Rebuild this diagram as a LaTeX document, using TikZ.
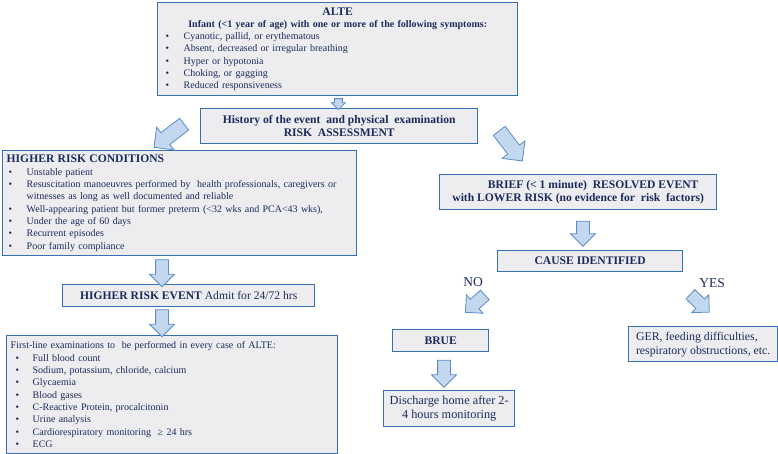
\documentclass[tikz,border=0pt]{standalone}
\usepackage{fontspec}
\setmainfont{Liberation Serif}
\usepackage{xcolor}
\usetikzlibrary{shapes,arrows,positioning,calc}

\definecolor{boxline}{HTML}{3670B5}
\definecolor{boxfill}{HTML}{EDEDF0}
\definecolor{boxtext}{HTML}{1B2A5C}
\definecolor{arrowline}{HTML}{5B8CC8}
\definecolor{arrowfill}{HTML}{C3D8EF}

\newlength\bulpre
\newlength\bulind
\newcommand\itm{\par\noindent\hangindent=\bulind\hspace*{\bulpre}\makebox[\dimexpr\bulind-\bulpre\relax][l]{\textbullet}}

\tikzset{
  box/.style={draw=boxline, line width=1.4pt, fill=boxfill, text=boxtext, inner sep=4pt, anchor=north west},
  listbox/.style={box, font=\fontsize{10}{12.3}\selectfont},
  headbox/.style={box, align=center, font=\fontsize{11.6}{13.5}\selectfont\bfseries},
  fatarrow/.style={single arrow, draw=arrowline, fill=arrowfill, line width=0.8pt,
    inner xsep=0pt, inner ysep=6pt, single arrow head extend=6pt, minimum width=0pt, minimum height=27pt},
  bigarrow/.style={fatarrow, inner ysep=7pt, single arrow head extend=7pt, minimum height=38pt},
  answer/.style={text=boxtext, font=\fontsize{13.5}{14}\selectfont}
}

\begin{document}
\begin{tikzpicture}[x=1pt,y=-1pt]
    \useasboundingbox (0,0) rectangle (778,454);

    % boxes
    \node[listbox, text width=352pt, minimum height=93pt] (alte) at (157,2)
      {\setlength\bulpre{4pt}\setlength\bulind{22pt}%
       \centering{\fontsize{11.6}{12}\selectfont\bfseries ALTE\par}
       {\bfseries Infant (<1 year of age) with one or more of the following symptoms:\par}
       \raggedright
       \itm Cyanotic, pallid, or erythematous
       \itm Absent, decreased or irregular breathing
       \itm Hyper or hypotonia
       \itm Choking, or gagging
       \itm Reduced responsiveness\par};
    \node[headbox, minimum width=277pt, minimum height=35pt] (hist) at (200,108)
      {History of the event\ \ and physical\ \ examination\\RISK\ \ ASSESSMENT};
    \node[listbox, text width=346pt, minimum height=105pt] (hrc) at (2,150)
      {\setlength\bulpre{2pt}\setlength\bulind{20pt}\raggedright
       {\fontsize{11.6}{12}\selectfont\bfseries HIGHER RISK CONDITIONS\par}
       \itm Unstable patient
       \itm Resuscitation manoeuvres performed by\ \ health professionals, caregivers or\newline witnesses as long as well documented and reliable
       \itm Well-appearing patient but former preterm (<32 wks and PCA<43 wks),
       \itm Under the age of 60 days
       \itm Recurrent episodes
       \itm Poor family compliance\par};
    \node[headbox, minimum width=252pt, minimum height=22pt] (hre) at (62,284)
      {HIGHER RISK EVENT \mdseries Admit for 24/72 hrs};
    \node[listbox, text width=323pt, minimum height=118pt] (first) at (6,335)
      {\setlength\bulpre{5pt}\setlength\bulind{22pt}\raggedright
       First-line examinations to\ \ be performed in every case of ALTE:\par
       \itm Full blood count
       \itm Sodium, potassium, chloride, calcium
       \itm Glycaemia
       \itm Blood gases
       \itm C-Reactive Protein, procalcitonin
       \itm Urine analysis
       \itm Cardiorespiratory monitoring\ \ ≥ 24 hrs
       \itm ECG\par};
    \node[headbox, minimum width=277pt, minimum height=35pt] (brief) at (439,174)
      {\hspace*{30pt}BRIEF (< 1 minute)\ \ RESOLVED EVENT\\with LOWER RISK (no evidence for\ \ risk\ \ factors)};
    \node[headbox, minimum width=185pt, minimum height=21pt] (cause) at (497,250) {CAUSE IDENTIFIED};
    \node[headbox, minimum width=96pt, minimum height=22pt] (brue) at (392,329) {BRUE};
    \node[headbox, minimum width=131pt, minimum height=36pt, font=\fontsize{12.3}{14}\selectfont] (disch) at (383,390)
      {Discharge home after 2-\\4 hours monitoring};
    \node[headbox, minimum width=149pt, minimum height=35pt, align=left, font=\fontsize{11.8}{14}\selectfont] (ger) at (628,326)
      {GER, feeding difficulties,\\respiratory obstructions, etc.};

    % answers
    \node[answer] (no) at (473,282) {NO};
    \node[answer] (yes) at (712,283) {YES};

    % block arrows
    \node[fatarrow, minimum height=11pt, inner ysep=3.5pt, single arrow head extend=3pt, rotate=-90] (a0)
      at ($(alte.south)!.5!(hist.north)$) {};
    \node[bigarrow, rotate=-142.5] (a1) at (172,133.5) {};
    \node[bigarrow, rotate=-52.5] (a2) at (508.5,143) {};
    \node[fatarrow, rotate=-90] (a3) at (162,270) {};
    \node[fatarrow, rotate=-90] (a4) at (162,320) {};
    \node[fatarrow, rotate=-90, minimum height=25pt] (a5) at (583,230.5) {};
    \node[fatarrow, rotate=-138, minimum height=26pt] (a6) at (477.5,301.5) {};
    \node[fatarrow, rotate=-43.5, minimum height=26pt] (a7) at (697.5,301) {};
    \node[fatarrow, rotate=-90] (a8) at (444,370.5) {};
\end{tikzpicture}
\end{document}
